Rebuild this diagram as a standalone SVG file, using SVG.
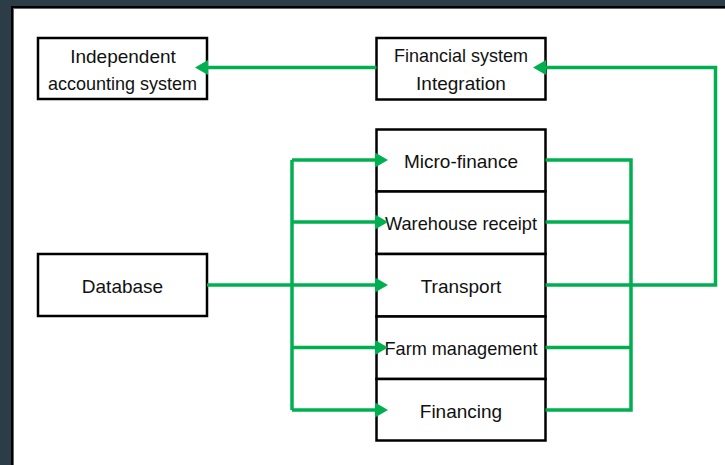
<svg xmlns="http://www.w3.org/2000/svg" width="725" height="465" viewBox="0 0 725 465">
<defs>
<style>
.box{fill:#fff;stroke:#000;stroke-width:2.5}
.lbl{font-family:"Liberation Sans",Arial,sans-serif;font-size:19px;fill:#111;text-anchor:middle}
.con{fill:none;stroke:#00b050;stroke-width:3.5;stroke-linejoin:miter}
</style>
<marker id="ah" markerUnits="userSpaceOnUse" markerWidth="14" markerHeight="15" refX="3" refY="7.5" orient="auto">
<path d="M0,0 L13,7.5 L0,15 z" fill="#00b050"/>
</marker>
</defs>
<rect x="0" y="0" width="725" height="465" fill="#2c3d47"/>
<rect x="11" y="6" width="714" height="459" fill="#000"/>
<rect x="13" y="8" width="712" height="457" fill="#5b6770"/>
<rect x="14" y="9" width="711" height="456" fill="#fff"/>

<g id="node-independent">
<rect class="box" x="38" y="38" width="169" height="61"/>
<text class="lbl" x="123" y="63">Independent</text>
<text class="lbl" x="122.5" y="90" textLength="149" lengthAdjust="spacingAndGlyphs">accounting system</text>
</g>
<g id="node-financial">
<rect class="box" x="376.5" y="38" width="169" height="61.5"/>
<text class="lbl" x="461" y="62" textLength="134" lengthAdjust="spacingAndGlyphs">Financial system</text>
<text class="lbl" x="461" y="90">Integration</text>
</g>
<g id="node-database">
<rect class="box" x="38" y="254" width="169" height="62"/>
<text class="lbl" x="122.5" y="293">Database</text>
</g>
<g id="node-microfinance">
<rect class="box" x="376.5" y="129.5" width="169" height="62"/>
<text class="lbl" x="461" y="168">Micro-finance</text>
</g>
<g id="node-warehouse">
<rect class="box" x="376.5" y="191.5" width="169" height="62.5"/>
<text class="lbl" x="461" y="230" textLength="152" lengthAdjust="spacingAndGlyphs">Warehouse receipt</text>
</g>
<g id="node-transport">
<rect class="box" x="376.5" y="254" width="169" height="62.5"/>
<text class="lbl" x="461" y="293">Transport</text>
</g>
<g id="node-farm">
<rect class="box" x="376.5" y="316.5" width="169" height="62.5"/>
<text class="lbl" x="461" y="355" textLength="153" lengthAdjust="spacingAndGlyphs">Farm management</text>
</g>
<g id="node-financing">
<rect class="box" x="376.5" y="379" width="169" height="61.5"/>
<text class="lbl" x="461" y="417.5">Financing</text>
</g>

<g id="connectors">
<path class="con" d="M376.5,67.5 H205" marker-end="url(#ah)"/>
<path class="con" d="M545.5,285 H715.5 V67.5 H543" marker-end="url(#ah)"/>
<path class="con" d="M207,285 H378" marker-end="url(#ah)"/>
<path class="con" d="M292,160 V410"/>
<path class="con" d="M292,160 H378" marker-end="url(#ah)"/>
<path class="con" d="M292,222 H378" marker-end="url(#ah)"/>
<path class="con" d="M292,347.5 H378" marker-end="url(#ah)"/>
<path class="con" d="M292,410 H378" marker-end="url(#ah)"/>
<path class="con" d="M545.5,160 H631 V410 H545.5"/>
<path class="con" d="M545.5,222 H631"/>
<path class="con" d="M545.5,347.5 H631"/>
</g>
</svg>
